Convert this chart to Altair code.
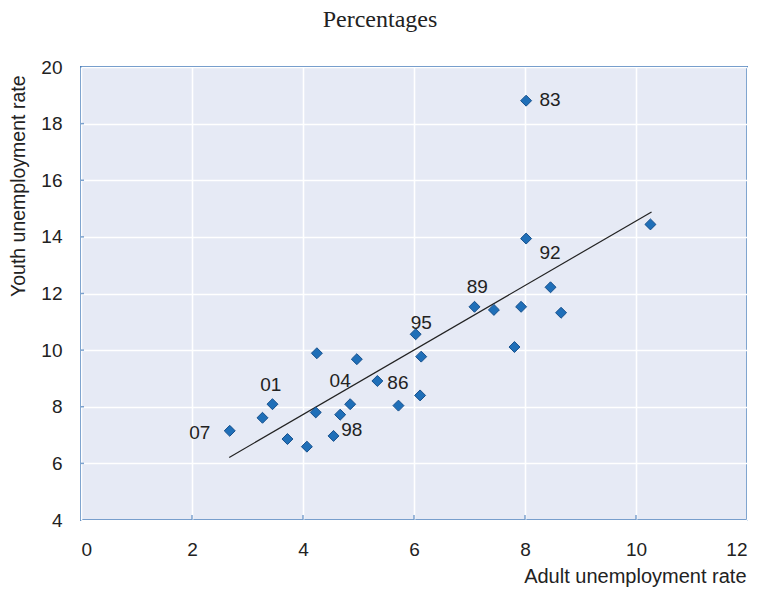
import altair as alt
import pandas as pd

# Scatter points (adult vs youth unemployment rate, %)
adult = [2.68, 3.27, 3.45, 3.72, 4.07, 4.25, 4.23, 4.55, 4.67, 4.85, 4.97, 5.34, 5.72,
         6.03, 6.13, 6.11, 7.09, 7.44, 7.93, 7.81, 8.02, 8.46, 8.65, 10.26, 8.02]
youth = [7.15, 7.61, 8.09, 6.86, 6.59, 9.89, 7.80, 6.97, 7.72, 8.09, 9.68, 8.91, 8.04,
         10.56, 9.77, 8.40, 11.53, 11.42, 11.53, 10.11, 13.94, 12.22, 11.32, 14.44, 18.81]

# Year labels
label_text = ["07", "01", "04", "86", "98", "95", "89", "92", "83"]
label_x = [2.14, 3.42, 4.67, 5.71, 4.88, 6.13, 7.14, 8.45, 8.45]
label_y = [7.07, 8.77, 8.91, 8.84, 7.18, 10.96, 12.23, 13.43, 18.83]

# Trend line end points
trend_x = [2.67, 10.28]
trend_y = [6.21, 14.88]

x_ticks = [0, 2, 4, 6, 8, 10, 12]
y_ticks = [4, 6, 8, 10, 12, 14, 16, 18, 20]
x_inner_ticks = [2, 4, 6, 8, 10]
y_inner_ticks = [6, 8, 10, 12, 14, 16, 18]

pts = pd.DataFrame({"adult": adult, "youth": youth})
labs = pd.DataFrame({"t": label_text, "x": label_x, "y": label_y})
trend = pd.DataFrame({"x": trend_x, "y": trend_y})
xt = pd.DataFrame({"x": x_inner_ticks, "y": [4] * len(x_inner_ticks)})
yt = pd.DataFrame({"y": y_inner_ticks, "x": [0] * len(y_inner_ticks)})

FONT = "Liberation Sans"
BORDER = "#4A7EBB"
TXT = "#222222"

xscale = alt.Scale(domain=[0, 12], nice=False, zero=False)
yscale = alt.Scale(domain=[4, 20], nice=False, zero=False)

xaxis = alt.Axis(values=x_ticks, format="d", title="Adult unemployment rate", tickSize=0, domain=False,
                 grid=True, gridColor="white", gridWidth=1.6,
                 labelFont=FONT, labelFontSize=19, labelColor=TXT, labelPadding=20,
                 titleFont=FONT, titleFontSize=20, titleFontWeight="normal", titleColor=TXT,
                 titleX=665, titleY=62, titleAlign="right", titleBaseline="alphabetic")
yaxis = alt.Axis(values=y_ticks, format="d", title="Youth unemployment rate", tickSize=0, domain=False,
                 grid=True, gridColor="white", gridWidth=1.6,
                 labelFont=FONT, labelFontSize=19, labelColor=TXT, labelPadding=19,
                 titleFont=FONT, titleFontSize=19.5, titleFontWeight="normal", titleColor=TXT,
                 titleX=-63, titleY=8, titleAngle=-90, titleAlign="right", titleBaseline="middle")

base_pts = alt.Chart(pts).mark_point(shape="diamond", filled=True, size=120,
                                     fill="#1F6FB8", stroke="#17508C", strokeWidth=1, opacity=1).encode(
    x=alt.X("adult:Q", scale=xscale, axis=xaxis),
    y=alt.Y("youth:Q", scale=yscale, axis=yaxis),
)

line = alt.Chart(trend).mark_line(color=TXT, strokeWidth=1.2).encode(
    x=alt.X("x:Q", scale=xscale),
    y=alt.Y("y:Q", scale=yscale),
)

text = alt.Chart(labs).mark_text(font=FONT, fontSize=19, color=TXT,
                                 align="center", baseline="middle").encode(
    x=alt.X("x:Q", scale=xscale),
    y=alt.Y("y:Q", scale=yscale),
    text="t:N",
)

xtick = alt.Chart(xt).mark_tick(orient="vertical", size=10, thickness=1.5,
                                color=BORDER, clip=True).encode(
    x=alt.X("x:Q", scale=xscale),
    y=alt.Y("y:Q", scale=yscale),
)
ytick = alt.Chart(yt).mark_tick(orient="horizontal", size=6, thickness=1.5,
                                color=BORDER, clip=True).encode(
    x=alt.X("x:Q", scale=xscale),
    y=alt.Y("y:Q", scale=yscale),
)

chart = alt.layer(line, base_pts, text, xtick, ytick).properties(
    width=666, height=453,
    title=alt.TitleParams("Percentages", font="Liberation Serif", fontSize=24,
                          fontWeight="normal", color=TXT, anchor="middle",
                          frame="group", dx=-34, dy=17, offset=24, baseline="alphabetic"),
    autosize=alt.AutoSizeParams(type="none"),
    padding={"left": 73, "top": 59, "right": 6, "bottom": 68},
).configure_view(
    fill="#E6EAF5", stroke=BORDER, strokeWidth=2
)

chart.save("out.html", embed_options={"renderer": "svg", "actions": False})
